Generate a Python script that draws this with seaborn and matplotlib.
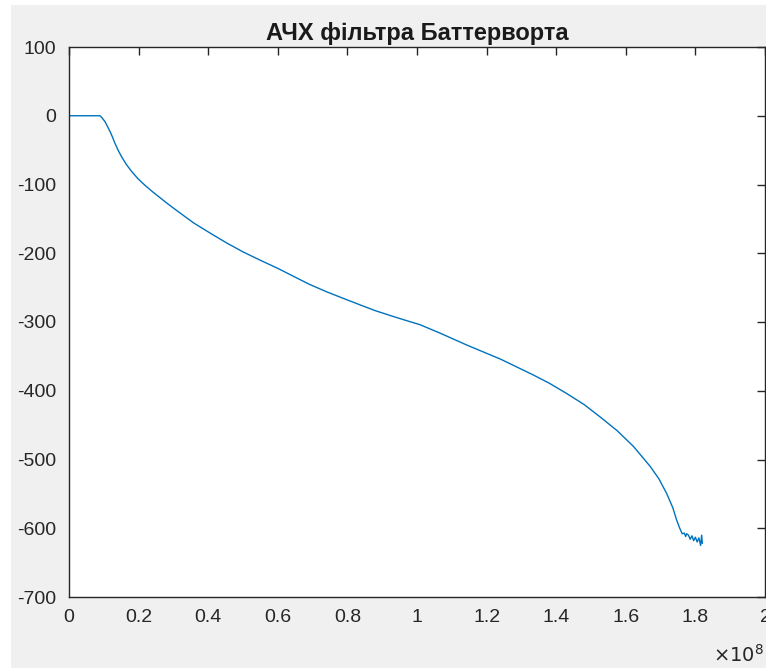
import numpy as np
import pandas as pd
import seaborn as sns
import matplotlib.pyplot as plt
from matplotlib.patches import Rectangle
from matplotlib.ticker import FuncFormatter, MultipleLocator

# frequency (x1e8 Hz) and magnitude (dB)
freq_e8 = [0.0, 0.02, 0.05, 0.08, 0.089, 0.095, 0.1034, 0.110, 0.118, 0.125, 0.132,
           0.141, 0.151, 0.165, 0.180, 0.198, 0.218, 0.240, 0.266, 0.290, 0.314,
           0.357, 0.405, 0.453, 0.50, 0.549, 0.60, 0.645, 0.69, 0.740, 0.79,
           0.836, 0.88, 0.932, 0.97, 1.009, 1.07, 1.143, 1.24, 1.334, 1.38,
           1.430, 1.48, 1.526, 1.575, 1.622, 1.670, 1.695, 1.717, 1.735, 1.746,
           1.755, 1.762, 1.768, 1.772, 1.775, 1.780, 1.785, 1.790, 1.795, 1.800,
           1.805, 1.810, 1.815, 1.818, 1.820]
mag_db = [0, 0, 0, 0, 0, -3, -8.6, -15, -23, -31, -40,
          -50, -59.5, -71, -81, -91.5, -101, -110.5, -121, -130.5, -139.5,
          -155.5, -170.5, -185, -198, -210, -222, -233.5, -245, -256, -266,
          -275, -283.5, -292, -298, -304, -317, -333.5, -354, -377, -389,
          -404, -420, -438, -458, -481, -510, -528, -549, -570, -588,
          -600, -608, -607, -612, -608, -610, -616, -611, -618, -613,
          -620, -614, -625, -610, -622]

title = "АЧХ фільтра Баттерворта"

df = pd.DataFrame({"f": np.array(freq_e8) * 1e8, "H": mag_db})

sns.set_theme(style="white")
plt.rcParams['font.family'] = ['Liberation Sans', 'DejaVu Sans']

fig = plt.figure(figsize=(7.66, 6.68), dpi=100, facecolor='#f0f0f0')
# white margin strips like the screenshot
fig.patches.append(Rectangle((0, 0), 11 / 766, 1, transform=fig.transFigure,
                             facecolor='white', edgecolor='none', zorder=-10))
fig.patches.append(Rectangle((0, 1 - 5 / 668), 1, 5 / 668, transform=fig.transFigure,
                             facecolor='white', edgecolor='none', zorder=-10))

ax = fig.add_axes([69 / 766, 71 / 668, 696 / 766, 550 / 668])
ax.set_facecolor('white')

sns.lineplot(data=df, x="f", y="H", ax=ax, color='#0072BD', linewidth=1.0,
             estimator=None, sort=False)

ax.set_xlim(0, 2e8)
ax.set_ylim(-700, 100)
ax.xaxis.set_major_locator(MultipleLocator(0.2e8))
ax.yaxis.set_major_locator(MultipleLocator(100))
ax.xaxis.set_major_formatter(FuncFormatter(lambda v, _: f"{v / 1e8:g}"))
ax.yaxis.set_major_formatter(FuncFormatter(lambda v, _: f"{v:g}"))
ax.set_xlabel("")
ax.set_ylabel("")

for s in ax.spines.values():
    s.set_color('#262626')
    s.set_linewidth(1.0)
ax.tick_params(direction='in', length=6, width=1, color='#262626',
               top=True, right=True, labelsize=14, labelcolor='#262626', pad=9)

ax.set_title(title, fontsize=17, fontweight='bold', color='#1a1a1a', pad=5)
fig.text(0.997, 1 - 655 / 668, r"$\times10^{8}$", ha='right', va='center',
         fontsize=14, color='#262626')

plt.savefig("out.png", dpi=100, facecolor=fig.get_facecolor())
plt.close()
